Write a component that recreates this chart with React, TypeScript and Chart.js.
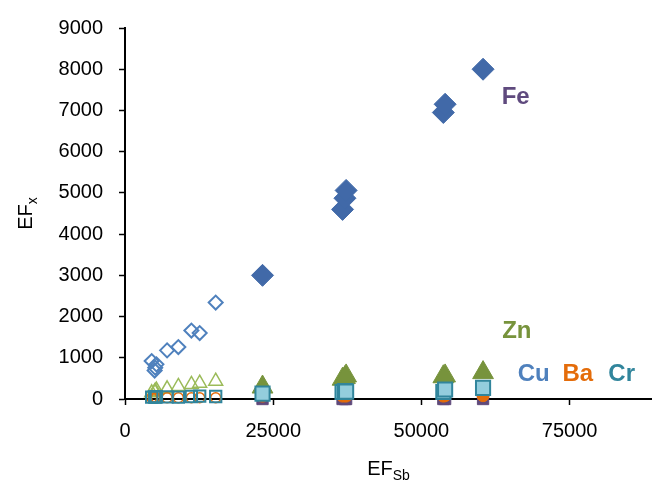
import React, { useEffect, useRef } from "react";
import { Chart, registerables } from "chart.js";

Chart.register(...registerables);

// EF_Sb values of the two sample groups
const lowSb = [4500, 5000, 5100, 5300, 7100, 9000, 11200, 12600, 15300];
const highSb = [23200, 36700, 37100, 37300, 53700, 54000, 60400];

// low EF_Sb group (open markers)
const cuLow = [920, 690, 760, 840, 1180, 1260, 1660, 1600, 2340];
const znLow = [150, 170, 190, 217, 248, 305, 354, 385, 433];
const crLow = [45, 50, 45, 55, 50, 45, 60, 70, 60];
const baLow = [30, 30, 30, 30, 30, 30, 30, 30, 30];

// high EF_Sb group (filled markers)
const feHigh = [3000, 4600, 4870, 5060, 6950, 7150, 8000];
const znHigh = [290, 480, 520, 560, 540, 560, 640];
const crHigh = [130, 170, 190, 180, 170, 230, 270];
const baHigh = [70, 70, 80, 70, 70, 80, 80];
const otherHigh = [0, 0, 0, 0, 0, 0, 0];

const xTicks = [0, 25000, 50000, 75000];
const yTicks = [0, 1000, 2000, 3000, 4000, 5000, 6000, 7000, 8000, 9000];

const labelNames = ["Fe", "Zn", "Cu", "Ba", "Cr"];
const labelX = [65900, 66100, 68950, 76370, 83780];
const labelY = [7320, 1640, 600, 600, 600];
const labelColors = ["#5F4A7E", "#77933C", "#4F81BD", "#E46C0A", "#31859C"];

const FONT = '"Liberation Sans", Arial, sans-serif';

const pts = (xs: number[], ys: number[]) => xs.map((x, i) => ({ x, y: ys[i] }));

const textPlugin = {
  id: "texts",
  afterDraw(chart: any) {
    const ctx = chart.ctx;
    const xs = chart.scales.x;
    const ys = chart.scales.y;
    const area = chart.chartArea;
    ctx.save();
    ctx.font = `bold 24px ${FONT}`;
    ctx.textAlign = "center";
    ctx.textBaseline = "middle";
    labelNames.forEach((n, i) => {
      ctx.fillStyle = labelColors[i];
      ctx.fillText(n, xs.getPixelForValue(labelX[i]), ys.getPixelForValue(labelY[i]));
    });
    ctx.fillStyle = "#000";
    ctx.textBaseline = "alphabetic";
    ctx.textAlign = "left";
    // x title EF_Sb
    ctx.font = `20px ${FONT}`;
    const w1 = ctx.measureText("EF").width;
    ctx.font = `14px ${FONT}`;
    const w2 = ctx.measureText("Sb").width;
    const cx = (area.left + area.right) / 2;
    let sx = cx - (w1 + w2) / 2;
    ctx.font = `20px ${FONT}`;
    ctx.fillText("EF", sx, 475);
    ctx.font = `14px ${FONT}`;
    ctx.fillText("Sb", sx + w1, 480);
    // y title EF_x
    ctx.translate(32, (area.top + area.bottom) / 2);
    ctx.rotate(-Math.PI / 2);
    ctx.font = `20px ${FONT}`;
    const v1 = ctx.measureText("EF").width;
    ctx.font = `14px ${FONT}`;
    const v2 = ctx.measureText("x").width;
    sx = -(v1 + v2) / 2;
    ctx.font = `20px ${FONT}`;
    ctx.fillText("EF", sx, 0);
    ctx.font = `14px ${FONT}`;
    ctx.fillText("x", sx + v1, 5);
    ctx.restore();
  },
};

export default function App() {
  const ref = useRef<HTMLCanvasElement>(null);
  useEffect(() => {
    if (!ref.current) return;
    const common = { showLine: false, clip: false as any };
    const chart = new Chart(ref.current, {
      type: "scatter",
      data: {
        datasets: [
          { ...common, label: "Cr", data: pts(highSb, crHigh), pointStyle: "rect", pointRadius: 10, backgroundColor: "#93CDDD", borderColor: "#31859C", borderWidth: 2 },
          { ...common, label: "Cr open", data: pts(lowSb, crLow), pointStyle: "rect", pointRadius: 8, backgroundColor: "rgba(0,0,0,0)", borderColor: "#31859C", borderWidth: 2 },
          { ...common, label: "Ba", data: pts(highSb, baHigh), pointStyle: "circle", pointRadius: 6, backgroundColor: "#E46C0A", borderColor: "#E46C0A", borderWidth: 1 },
          { ...common, label: "Ba open", data: pts(lowSb, baLow), pointStyle: "circle", pointRadius: 5, backgroundColor: "rgba(0,0,0,0)", borderColor: "#E46C0A", borderWidth: 1.5 },
          { ...common, label: "other", data: pts(highSb, otherHigh), pointStyle: "rect", pointRadius: 8, backgroundColor: "#604A7B", borderColor: "#604A7B", borderWidth: 1 },
          { ...common, label: "Zn", data: pts(highSb, znHigh), pointStyle: "triangle", pointRadius: 12, backgroundColor: "#77933C", borderColor: "#77933C", borderWidth: 1 },
          { ...common, label: "Zn open", data: pts(lowSb, znLow), pointStyle: "triangle", pointRadius: 8, backgroundColor: "rgba(255,255,255,0)", borderColor: "#9BBB59", borderWidth: 1.5 },
          { ...common, label: "Cu open", data: pts(lowSb, cuLow), pointStyle: "rectRot", pointRadius: 7, backgroundColor: "rgba(255,255,255,0)", borderColor: "#4F81BD", borderWidth: 2 },
          { ...common, label: "Fe", data: pts(highSb, feHigh), pointStyle: "rectRot", pointRadius: 11, backgroundColor: "#4169A8", borderColor: "#4169A8", borderWidth: 1 },
        ],
      },
      options: {
        animation: false,
        responsive: false,
        layout: { autoPadding: false, padding: { top: 25, right: 0, left: 0, bottom: 0 } },
        plugins: { legend: { display: false }, tooltip: { enabled: false } },
        scales: {
          x: {
            type: "linear",
            min: 0,
            max: 88900,
            afterBuildTicks: (s: any) => { s.ticks = xTicks.map((v) => ({ value: v })); },
            afterFit: (s: any) => { s.height = 85; s.paddingRight = 0; s.paddingLeft = 0; },
            border: { display: true, color: "#000", width: 2 },
            grid: { drawOnChartArea: false, drawTicks: true, tickLength: 6, tickColor: "#000", tickWidth: 1.5 },
            ticks: { color: "#000", font: { family: FONT, size: 20 }, padding: 14, maxRotation: 0, autoSkip: false, callback: (v: any) => String(v) },
          },
          y: {
            type: "linear",
            min: 0,
            max: 9000,
            afterBuildTicks: (s: any) => { s.ticks = yTicks.map((v) => ({ value: v })); },
            afterFit: (s: any) => { s.width = 125; },
            border: { display: true, color: "#000", width: 2 },
            grid: { drawOnChartArea: false, drawTicks: true, tickLength: 6, tickColor: "#000", tickWidth: 1.5 },
            ticks: { color: "#000", font: { family: FONT, size: 20 }, padding: 16, callback: (v: any) => String(v) },
          },
        },
      },
      plugins: [textPlugin],
    });
    return () => chart.destroy();
  }, []);
  return (
    <div style={{ position: "absolute", left: 0, top: 0, width: 652, height: 484 }}>
      <canvas ref={ref} width={652} height={484} style={{ display: "block" }} />
    </div>
  );
}
